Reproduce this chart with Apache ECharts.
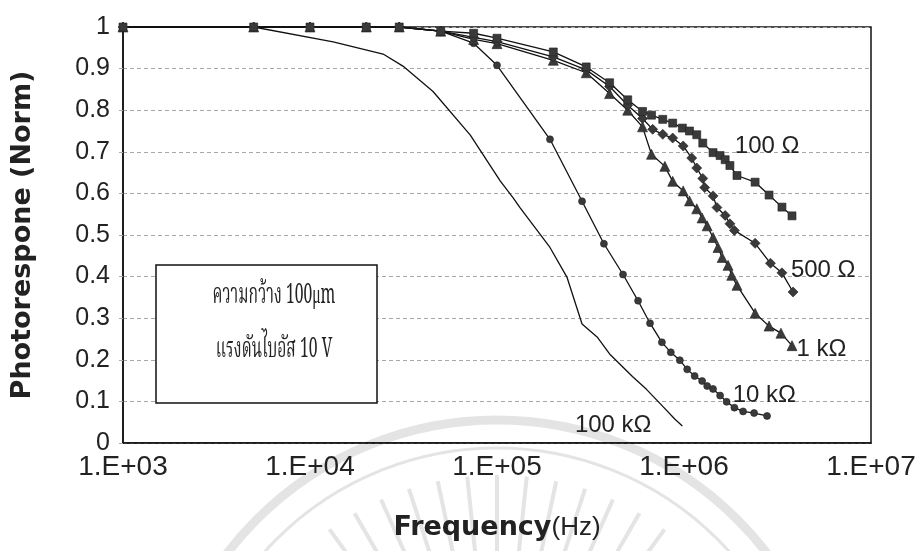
<!DOCTYPE html>
<html>
<head>
<meta charset="utf-8">
<script src="https://cdn.jsdelivr.net/npm/echarts@6/dist/echarts.min.js"></script>
<style>
  html, body { margin: 0; padding: 0; background: #fff; }
  #chart { width: 916px; height: 551px; }
</style>
</head>
<body>
<div id="chart"></div>
<script>
// Normalised photoresponse vs modulation frequency for several load resistors.

// 100 Ω load
const freq100R = [1e3, 5e3, 1e4, 2e4, 3e4, 5e4, 7.5e4, 1e5, 2e5, 3e5, 4e5, 5e5, 6e5, 6.7e5, 7.7e5, 8.7e5, 9.8e5,
  1.07e6, 1.17e6, 1.26e6, 1.43e6, 1.56e6, 1.66e6, 1.76e6, 1.92e6, 2.4e6, 2.85e6, 3.34e6, 3.78e6];
const resp100R = [1, 1, 1, 1, 1, 0.99, 0.985, 0.973, 0.94, 0.904, 0.866, 0.825, 0.797, 0.788, 0.778, 0.769, 0.757,
  0.75, 0.741, 0.721, 0.698, 0.691, 0.681, 0.667, 0.643, 0.627, 0.596, 0.567, 0.546];

// 500 Ω load
const freq500R = [1e3, 5e3, 1e4, 2e4, 3e4, 5e4, 7.5e4, 1e5, 2e5, 3e5, 4e5, 5e5, 6e5, 6.8e5, 7.7e5, 8.7e5, 9.9e5,
  1.1e6, 1.17e6, 1.26e6, 1.29e6, 1.43e6, 1.5e6, 1.66e6, 1.76e6, 1.86e6, 2.4e6, 2.9e6, 3.34e6, 3.83e6];
const resp500R = [1, 1, 1, 1, 1, 0.99, 0.975, 0.965, 0.928, 0.897, 0.857, 0.812, 0.78, 0.754, 0.742, 0.733, 0.714,
  0.685, 0.661, 0.636, 0.614, 0.594, 0.566, 0.547, 0.527, 0.511, 0.48, 0.432, 0.409, 0.363];

// 1 kΩ load
const freq1k = [1e3, 5e3, 1e4, 2e4, 3e4, 5e4, 7.5e4, 1e5, 2e5, 3e5, 4e5, 5e5, 6e5, 6.7e5, 7.9e5, 8.7e5, 9.9e5,
  1.07e6, 1.17e6, 1.25e6, 1.33e6, 1.43e6, 1.52e6, 1.6e6, 1.72e6, 1.8e6, 1.92e6, 2.4e6, 2.85e6, 3.3e6, 3.78e6];
const resp1k = [1, 1, 1, 1, 1, 0.99, 0.97, 0.96, 0.92, 0.89, 0.84, 0.8, 0.76, 0.694, 0.665, 0.629, 0.606,
  0.582, 0.563, 0.541, 0.522, 0.494, 0.47, 0.446, 0.427, 0.403, 0.379, 0.312, 0.281, 0.264, 0.234];

// 10 kΩ load
const freq10k = [1e3, 5e3, 1e4, 2e4, 3e4, 5e4, 7.5e4, 1e5, 1.92e5, 2.85e5, 3.73e5, 4.72e5, 5.68e5, 6.58e5, 7.62e5,
  8.5e5, 9.5e5, 1.04e6, 1.14e6, 1.25e6, 1.33e6, 1.43e6, 1.56e6, 1.69e6, 1.86e6, 2.07e6, 2.37e6, 2.78e6];
const resp10k = [1, 1, 1, 1, 1, 0.99, 0.961, 0.908, 0.73, 0.581, 0.479, 0.405, 0.342, 0.288, 0.242,
  0.218, 0.199, 0.177, 0.161, 0.149, 0.137, 0.13, 0.114, 0.099, 0.085, 0.076, 0.072, 0.065];

// 100 kΩ load (trace without markers)
const freq100k = [1e3, 5e3, 1.33e4, 2.46e4, 3.14e4, 4.55e4, 7.2e4, 1.04e5, 1.22e5, 1.33e5, 1.92e5, 2.37e5,
  2.85e5, 3.43e5, 4.0e5, 5.3e5, 6.3e5, 7.7e5, 8.95e5, 9.8e5];
const resp100k = [1, 1, 0.964, 0.935, 0.906, 0.845, 0.74, 0.63, 0.589, 0.565, 0.47, 0.398,
  0.286, 0.255, 0.214, 0.16, 0.129, 0.088, 0.057, 0.041];

// Axis tick labels
const xTickLabels = ['1.E+03', '1.E+04', '1.E+05', '1.E+06', '1.E+07'];
const yTickLabels = ['0', '0.1', '0.2', '0.3', '0.4', '0.5', '0.6', '0.7', '0.8', '0.9', '1'];

// Curve captions, anchored in data space [frequency, response]
const captionText = ['100 Ω', '500 Ω', '1 kΩ', '10 kΩ', '100 kΩ'];
const captionFreq = [1.87e6, 3.73e6, 4.0e6, 1.82e6, 2.61e5];
const captionResp = [0.714, 0.416, 0.224, 0.115, 0.043];

// Text inside the note box
const noteLines = ['ความกว้าง 100μm', 'แรงดันไบอัส 10 V'];

const pairs = (xs, ys) => xs.map((x, i) => [x, ys[i]]);

const sansFont = '"Liberation Sans", Arial, sans-serif';
const thaiFont = '"Noto Serif Thai", "Noto Sans Thai", "TlwgTypo", "Loma", "Garuda", "Norasi", serif';

const lineStyle = { color: '#111', width: 1.3 };
const markerStyle = { color: '#3a3a3a', borderColor: '#222', borderWidth: 0.6 };

function markedSeries(name, xs, ys, symbol, size) {
  return {
    name, type: 'line', data: pairs(xs, ys),
    symbol, symbolSize: size, showSymbol: true,
    lineStyle, itemStyle: markerStyle, silent: true, animation: false, z: 3
  };
}

const chart = echarts.init(document.getElementById('chart'), null, { renderer: 'canvas' });

chart.setOption({
  backgroundColor: '#fff',
  animation: false,
  grid: {
    left: 123, right: 45, top: 27, bottom: 108,
    containLabel: false, outerBoundsMode: 'none',
    show: true, borderColor: '#111', borderWidth: 1.5, backgroundColor: 'transparent'
  },
  xAxis: {
    type: 'log', logBase: 10, min: 1e3, max: 1e7,
    axisLine: { show: true, lineStyle: { color: '#111', width: 1.5 } },
    axisTick: { show: false },
    splitLine: { show: false },
    minorTick: { show: false },
    axisLabel: {
      margin: 10, color: '#222', fontFamily: sansFont, fontSize: 28,
      formatter: v => xTickLabels[Math.round(Math.log10(v)) - 3] || ''
    },
    name: '{b|Frequency}{n|(Hz)}',
    nameLocation: 'middle', nameGap: 71,
    nameTextStyle: {
      rich: {
        b: { fontFamily: '"DejaVu Sans", sans-serif', fontWeight: 'bold', fontSize: 27, color: '#222' },
        n: { fontFamily: '"Liberation Sans Narrow", "Liberation Sans", sans-serif', fontSize: 26, color: '#222' }
      }
    }
  },
  yAxis: {
    type: 'value', min: 0, max: 1, interval: 0.1,
    axisLine: { show: true, lineStyle: { color: '#111', width: 1.5 } },
    axisTick: { show: true, inside: false, length: 5, lineStyle: { color: '#aaa', type: 'dashed' } },
    splitLine: { show: true, lineStyle: { color: '#a8a8a8', width: 1, type: [4, 3] } },
    axisLabel: {
      margin: 13, color: '#222', fontFamily: sansFont, fontSize: 25,
      formatter: v => yTickLabels[Math.round(v * 10)]
    },
    name: 'Photorespone (Norm)',
    nameLocation: 'middle', nameGap: 87, nameRotate: 90,
    nameTextStyle: { fontFamily: '"DejaVu Sans", sans-serif', fontWeight: 'bold', fontSize: 27, color: '#222' }
  },
  series: [
    {
      name: '100 kΩ', type: 'line', data: pairs(freq100k, resp100k),
      showSymbol: false, symbol: 'none', lineStyle, silent: true, animation: false, z: 2
    },
    markedSeries('10 kΩ', freq10k, resp10k, 'circle', 7),
    markedSeries('1 kΩ', freq1k, resp1k, 'triangle', 10),
    markedSeries('500 Ω', freq500R, resp500R, 'diamond', 10),
    markedSeries('100 Ω', freq100R, resp100R, 'rect', 8)
  ]
});

// Faint emblem printed behind the page content: rings with a burst of rays
const emblemCx = 497, emblemCy = 760;
const emblemColor = '#e4e4e4';
const emblemElements = [
  { type: 'circle', z: -5, silent: true, shape: { cx: emblemCx, cy: emblemCy, r: 340 },
    style: { fill: 'none', stroke: emblemColor, lineWidth: 9 } },
  { type: 'circle', z: -5, silent: true, shape: { cx: emblemCx, cy: emblemCy, r: 312 },
    style: { fill: 'none', stroke: emblemColor, lineWidth: 3 } }
];
for (let k = 0; k < 13; k++) {
  const a = (-126 + k * 6) * Math.PI / 180;
  emblemElements.push({
    type: 'line', z: -5, silent: true,
    shape: {
      x1: emblemCx + 150 * Math.cos(a), y1: emblemCy + 150 * Math.sin(a),
      x2: emblemCx + 285 * Math.cos(a), y2: emblemCy + 285 * Math.sin(a)
    },
    style: { stroke: emblemColor, lineWidth: 4 }
  });
}

// Captions and the note box, placed through the grid's coordinate system
const captionElements = captionText.map((t, i) => {
  const p = chart.convertToPixel({ gridIndex: 0 }, [captionFreq[i], captionResp[i]]);
  return {
    type: 'text', x: p[0], y: p[1], z: 10, silent: true,
    style: { text: t, fill: '#222', font: '24px ' + sansFont, textAlign: 'left', textVerticalAlign: 'middle' }
  };
});

const boxLeft = 156, boxTop = 265, boxW = 221, boxH = 138;
const noteCenterX = 274;
const noteElements = [
  {
    type: 'rect', z: 9, silent: true,
    shape: { x: boxLeft, y: boxTop, width: boxW, height: boxH },
    style: { fill: '#fff', stroke: '#111', lineWidth: 1.5 }
  }
].concat(noteLines.map((t, i) => ({
  type: 'text', z: 10, silent: true,
  x: noteCenterX, y: boxTop + 33 + i * 54, scaleX: 0.56,
  style: { text: t, fill: '#222', font: '28px ' + thaiFont, textAlign: 'center', textVerticalAlign: 'middle' }
})));

chart.setOption({ graphic: emblemElements.concat(captionElements, noteElements) });
</script>
</body>
</html>
